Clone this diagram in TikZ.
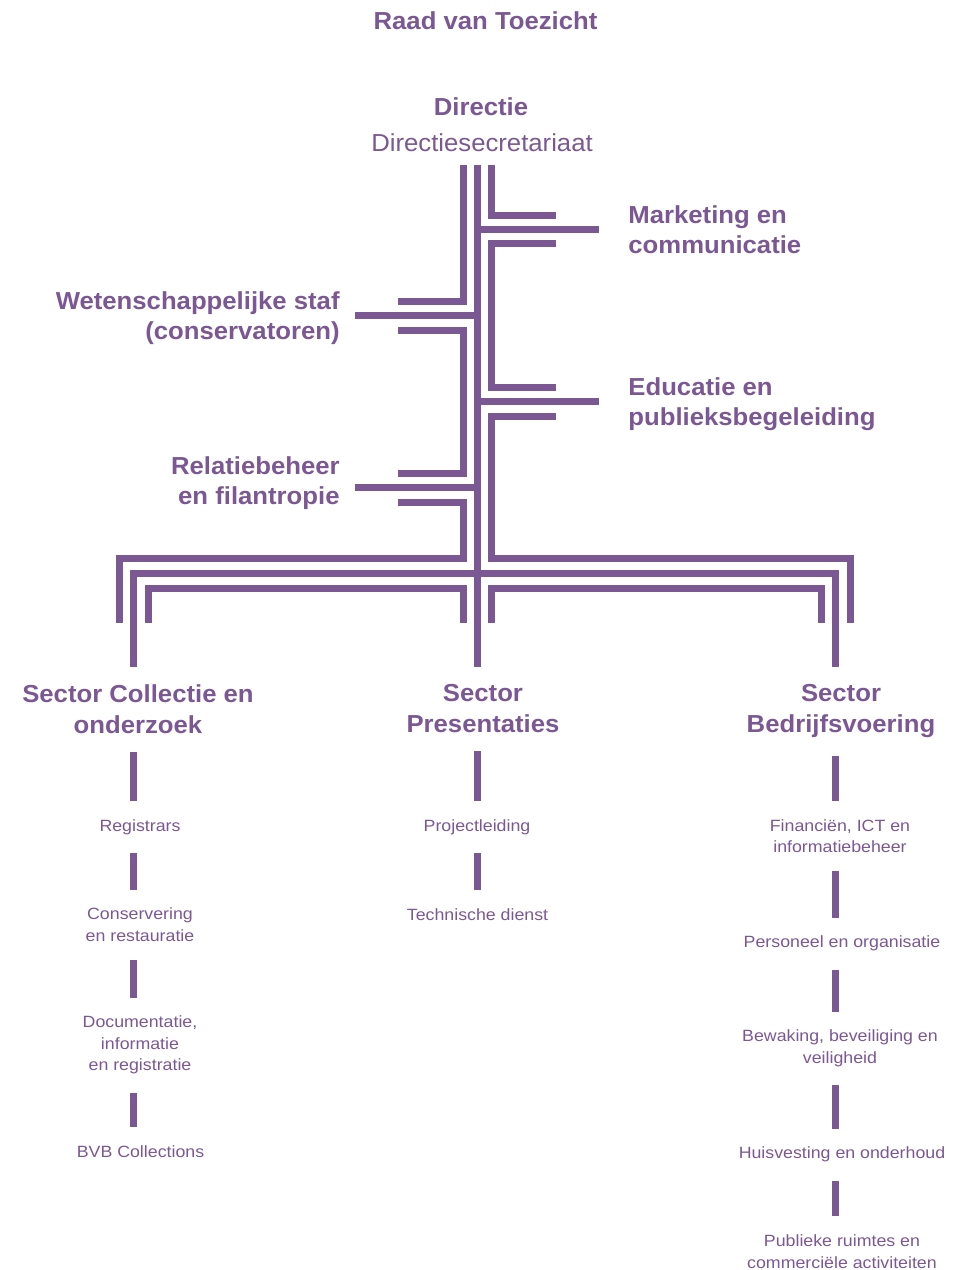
\documentclass[tikz,border=0pt]{standalone}
\usepackage{fontspec}
\setmainfont{Liberation Sans}
\newfontfamily\kopfont[FakeStretch=1.045]{Liberation Sans}
\newfontfamily\afdfont[FakeStretch=1.09]{Liberation Sans}
\usetikzlibrary{positioning}
\definecolor{paars}{RGB}{123,87,148}

\tikzset{
  lijn/.style={draw=paars, line width=3.5pt},
  streep/.style={lijn, shorten <=9pt, shorten >=9pt},
  kop/.style={text=paars, inner sep=0pt, align=center, font=\kopfont\bfseries\fontsize{12.3}{15}\selectfont},
  sector/.style={kop, anchor=north, font=\kopfont\bfseries\fontsize{12.3}{15.6}\selectfont},
  afd/.style={text=paars, inner sep=0pt, align=center, anchor=north, font=\afdfont\fontsize{8.15}{10.8}\selectfont},
}

\begin{document}
\begin{tikzpicture}[x=0.5pt, y=-0.5pt]
    \useasboundingbox (0,0) rectangle (966,1270);

    % top
    \node (raad) [kop, anchor=north] at (485.5,11.7) {Raad van Toezicht};
    \node (directie) [kop, anchor=north] at (481,97.3) {Directie};
    \node (secr) [kop, anchor=north, font=\kopfont\fontsize{12.3}{15}\selectfont] at (482,133.3) {Directiesecretariaat};

    % staf
    \node (marketing) [kop, align=left, anchor=north west] at (628,205) {Marketing en\\communicatie};
    \node (educatie) [kop, align=left, anchor=north west] at (628,377) {Educatie en\\publieksbegeleiding};
    \node (weten) [kop, align=right, anchor=north east] at (340,291) {Wetenschappelijke staf\\(conservatoren)};
    \node (relatie) [kop, align=right, anchor=north east] at (340,456) {Relatiebeheer\\en filantropie};

    % sectoren
    \node (collectie) [sector] at (138,684) {Sector Collectie en\\onderzoek};
    \node (presentaties) [sector] at (483,684) {Sector\\Presentaties};
    \node (bedrijf) [sector] at (841,684) {Sector\\Bedrijfsvoering};

    \coordinate (kolA) at (133.5,667);
    \coordinate (kolB) at (477,667);
    \coordinate (kolC) at (835,667);

    % bundel
    \draw[lijn] (463,165) -- (463,301) -- (398,301);
    \draw[lijn] (398,330) -- (463,330) -- (463,473) -- (398,473);
    \draw[lijn] (398,502) -- (463,502) -- (463,558.5) -- (119,558.5) -- (119,623);
    \draw[lijn] (463,623) -- (463,588) -- (148,588) -- (148,623);
    \draw[lijn] (477,165) -- (kolB);
    \draw[lijn] (477,229.5) -- (599,229.5);
    \draw[lijn] (477,401.5) -- (599,401.5);
    \draw[lijn] (477,315.5) -- (355,315.5);
    \draw[lijn] (477,487.5) -- (355,487.5);
    \draw[lijn] (kolA) -- (133.5,573.5) -- (835,573.5) -- (kolC);
    \draw[lijn] (491,165) -- (491,215) -- (556,215);
    \draw[lijn] (556,243.5) -- (491,243.5) -- (491,387) -- (556,387);
    \draw[lijn] (556,416) -- (491,416) -- (491,558.5) -- (850,558.5) -- (850,623);
    \draw[lijn] (491,623) -- (491,588) -- (821,588) -- (821,623);

    % afdelingen
    \node (registrars) [afd] at (140,818.9) {Registrars};
    \node (conservering) [afd] at (140,907.7) {Conservering\\en restauratie};
    \node (documentatie) [afd] at (140,1015.5) {Documentatie,\\informatie\\en registratie};
    \node (bvb) [afd] at (140.5,1144.9) {BVB Collections};

    \node (project) [afd] at (477,819.2) {Projectleiding};
    \node (techniek) [afd] at (477.5,908.2) {Technische dienst};

    \node (financien) [afd] at (840,818.9) {Financiën, ICT en\\informatiebeheer};
    \node (personeel) [afd] at (842,935.7) {Personeel en organisatie};
    \node (bewaking) [afd] at (840,1029.7) {Bewaking, beveiliging en\\veiligheid};
    \node (huisvesting) [afd] at (842,1146.7) {Huisvesting en onderhoud};
    \node (publiek) [afd] at (842,1234.2) {Publieke ruimtes en\\commerciële activiteiten};

    \draw[streep] (collectie.south -| kolA) -- (registrars.north -| kolA);
    \draw[streep] (registrars.south -| kolA) -- (conservering.north -| kolA);
    \draw[streep] (conservering.south -| kolA) -- (documentatie.north -| kolA);
    \draw[streep] (documentatie.south -| kolA) -- (bvb.north -| kolA);

    \draw[streep] (presentaties.south -| kolB) -- (project.north -| kolB);
    \draw[streep] (project.south -| kolB) -- (techniek.north -| kolB);

    \draw[streep] (bedrijf.south -| kolC) -- (financien.north -| kolC);
    \draw[streep] (financien.south -| kolC) -- (personeel.north -| kolC);
    \draw[streep] (personeel.south -| kolC) -- (bewaking.north -| kolC);
    \draw[streep] (bewaking.south -| kolC) -- (huisvesting.north -| kolC);
    \draw[streep] (huisvesting.south -| kolC) -- (publiek.north -| kolC);
\end{tikzpicture}
\end{document}
